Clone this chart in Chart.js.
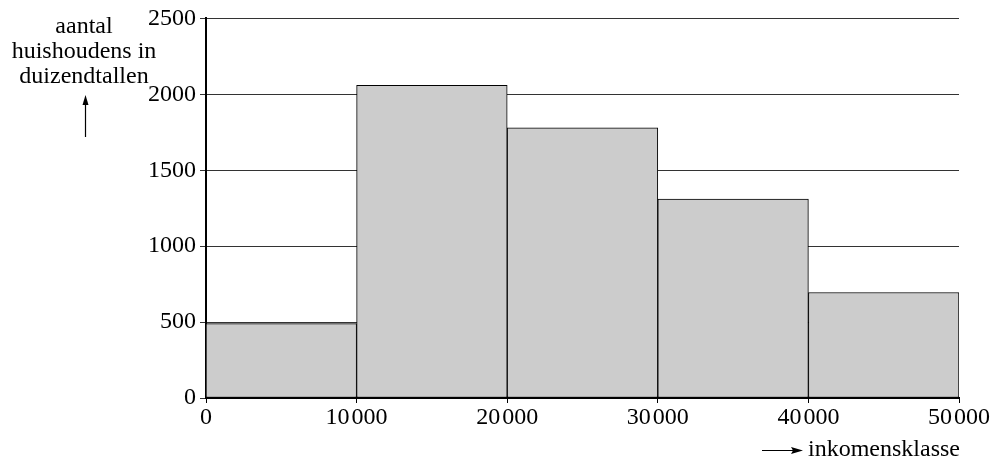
<!DOCTYPE html>
<html>
<head>
<meta charset="utf-8">
<script src="https://cdn.jsdelivr.net/npm/chart.js@4/dist/chart.umd.min.js"></script>
<style>
  html, body { margin: 0; padding: 0; background: #fff; }
  #wrap { width: 997px; height: 459px; }
</style>
</head>
<body>
<div id="wrap"><canvas id="histogram" width="997" height="459"></canvas></div>
<script>
// klassegrenzen (euro) en aantal huishoudens (x 1000)
var klasseGrenzen = [0, 10000, 20000, 30000, 40000, 50000];
var huishoudens = [490, 2060, 1780, 1310, 695];
var yTicks = [0, 500, 1000, 1500, 2000, 2500];
var yTitel = ["aantal", "huishoudens in", "duizendtallen"];
var xTitel = "inkomensklasse";

var fontFamily = "'Liberation Serif', 'DejaVu Serif', serif";

function formatGetal(v) {
  var s = String(v);
  if (v >= 1000) {
    s = s.slice(0, s.length - 3) + "\u200A" + s.slice(s.length - 3);
  }
  return s;
}

var punten = huishoudens.map(function (h, i) {
  return { x: (klasseGrenzen[i] + klasseGrenzen[i + 1]) / 2, y: h };
});

var titelPlugin = {
  id: "titels",
  afterDraw: function (chart) {
    var ctx = chart.ctx;
    ctx.save();
    ctx.fillStyle = "#000";
    ctx.strokeStyle = "#000";
    ctx.font = "24px " + fontFamily;
    ctx.textAlign = "center";
    ctx.textBaseline = "alphabetic";
    var basis = [33, 58, 83];
    for (var i = 0; i < yTitel.length; i++) {
      ctx.fillText(yTitel[i], 84, basis[i]);
    }
    // pijl omhoog
    ctx.lineWidth = 1.2;
    ctx.beginPath();
    ctx.moveTo(85.5, 137);
    ctx.lineTo(85.5, 102);
    ctx.stroke();
    ctx.beginPath();
    ctx.moveTo(85.5, 95);
    ctx.lineTo(82.5, 105);
    ctx.lineTo(88.5, 105);
    ctx.closePath();
    ctx.fill();

    // pijl naar rechts + titel x-as
    ctx.beginPath();
    ctx.moveTo(762, 450.5);
    ctx.lineTo(795, 450.5);
    ctx.stroke();
    ctx.beginPath();
    ctx.moveTo(803, 450.5);
    ctx.lineTo(791, 447);
    ctx.lineTo(793, 450.5);
    ctx.lineTo(791, 454);
    ctx.closePath();
    ctx.fill();
    ctx.textAlign = "left";
    ctx.fillText(xTitel, 808, 456);
    ctx.restore();
  }
};

var ctx = document.getElementById("histogram").getContext("2d");
var myHistogram = new Chart(ctx, {
  type: "bar",
  data: {
    datasets: [
      {
        data: punten,
        backgroundColor: "#cccccc",
        borderColor: "#000000",
        borderWidth: 1,
        borderSkipped: false,
        barPercentage: 1,
        categoryPercentage: 1
      }
    ]
  },
  options: {
    responsive: false,
    animation: false,
    events: [],
    layout: {
      padding: { left: 0, right: 38, top: 18, bottom: 0 }
    },
    plugins: {
      legend: { display: false },
      tooltip: { enabled: false }
    },
    scales: {
      x: {
        type: "linear",
        min: klasseGrenzen[0],
        max: klasseGrenzen[klasseGrenzen.length - 1],
        offset: false,
        grid: {
          offset: false,
          drawOnChartArea: false,
          drawTicks: true,
          tickLength: 5,
          color: "#000"
        },
        border: { color: "#000", width: 2 },
        afterBuildTicks: function (axis) {
          axis.ticks = klasseGrenzen.map(function (v) { return { value: v }; });
        },
        afterFit: function (axis) {
          axis.height = 61;
        },
        ticks: {
          color: "#000",
          padding: 0,
          maxRotation: 0,
          autoSkip: false,
          font: { family: fontFamily, size: 24 },
          callback: function (v) { return formatGetal(v); }
        }
      },
      y: {
        min: 0,
        max: 2500,
        grid: {
          color: "#333",
          lineWidth: 1,
          drawTicks: true,
          tickLength: 6
        },
        border: { color: "#000", width: 2 },
        afterBuildTicks: function (axis) {
          axis.ticks = yTicks.map(function (v) { return { value: v }; });
        },
        afterFit: function (axis) {
          axis.width = 206;
        },
        ticks: {
          color: "#000",
          padding: 4,
          autoSkip: false,
          font: { family: fontFamily, size: 24 },
          callback: function (v) { return String(v); }
        }
      }
    }
  },
  plugins: [titelPlugin]
});
</script>
</body>
</html>
